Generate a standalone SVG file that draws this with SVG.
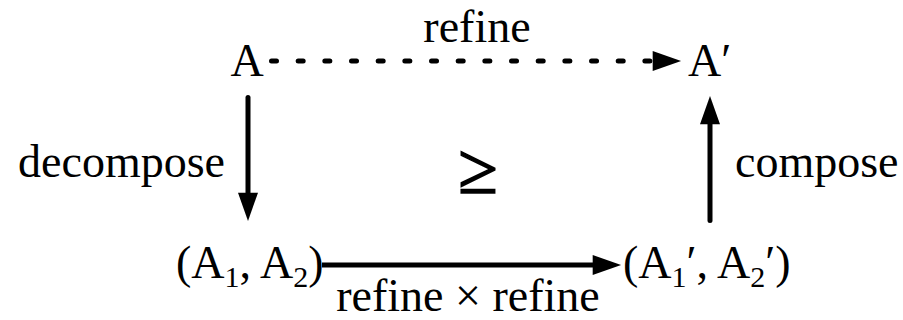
<svg xmlns="http://www.w3.org/2000/svg" width="903" height="320" viewBox="0 0 903 320">
<defs>
<style>
text{font-family:"Liberation Serif","Times New Roman",serif;font-size:46px;fill:#000}
.sub{font-size:30px}
.arr{stroke:#000;stroke-width:5;fill:none;stroke-linecap:round}
.dot{stroke-dasharray:5 21.67}
</style>
<marker id="head" markerUnits="userSpaceOnUse" markerWidth="30" markerHeight="20" refX="6" refY="9.5" orient="auto" viewBox="0 0 27 19">
<path d="M0,0 L27,9.5 L0,19 z" fill="#000"/>
</marker>
</defs>
<g id="connectors">
<path class="arr dot" d="M271.5,61 L659,61" marker-end="url(#head)"/>
<path class="arr" d="M248,97.5 L248,199" marker-end="url(#head)"/>
<path class="arr" d="M710,220.5 L710,118" marker-end="url(#head)"/>
<path class="arr" d="M322,265 L599,265" marker-end="url(#head)" style="stroke-linecap:butt"/>
</g>
<g id="label-refine-top"><text x="477" y="42" text-anchor="middle">refine</text></g>
<g id="node-A"><text x="247" y="76" text-anchor="middle">A</text></g>
<g id="node-A-prime"><text x="688" y="76">A′</text></g>
<g id="label-decompose"><text x="225" y="177" text-anchor="end">decompose</text></g>
<g id="label-compose"><text x="735" y="177">compose</text></g>
<g id="label-geq"><text x="478" y="193" text-anchor="middle" style="font-size:72px;stroke:#000;stroke-width:1.5">≥</text></g>
<g id="node-pair"><text x="176" y="278">(A<tspan class="sub" dy="9">1</tspan><tspan dy="-9">, A</tspan><tspan class="sub" dy="9">2</tspan><tspan dy="-9">)</tspan></text></g>
<g id="node-pair-prime"><text x="623" y="278">(A<tspan class="sub" dy="9">1</tspan><tspan dy="-9">′, A</tspan><tspan class="sub" dy="9">2</tspan><tspan dy="-9">′)</tspan></text></g>
<g id="label-refine-product"><text x="468" y="311" text-anchor="middle">refine × refine</text></g>
</svg>
